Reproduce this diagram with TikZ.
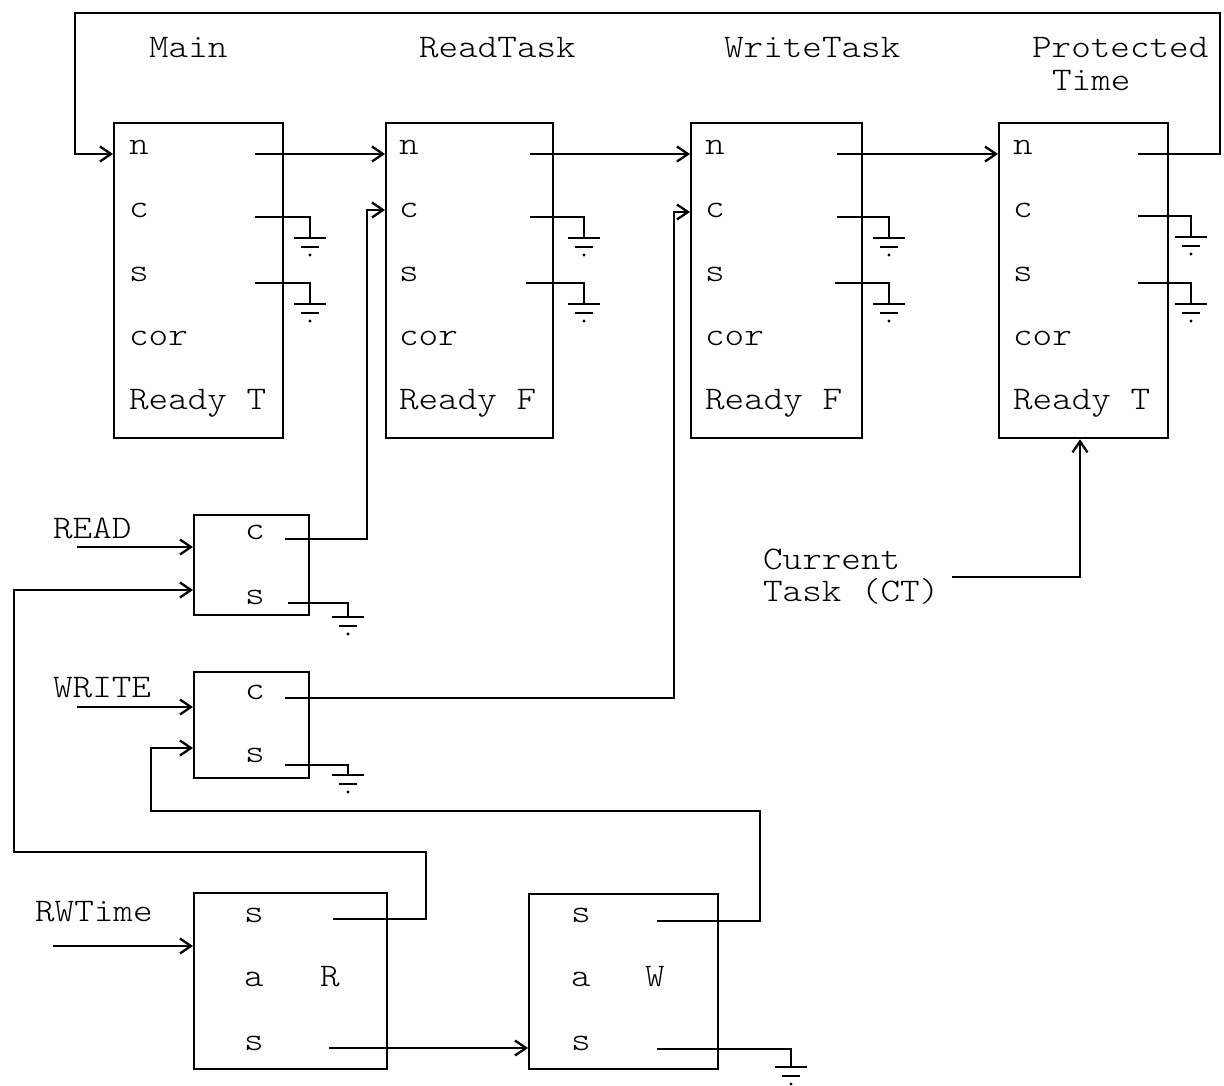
\documentclass[tikz,border=0pt]{standalone}
\usepackage{fontspec}
\newfontfamily\twfont[FakeStretch=1.13]{lmmonolt10-regular.otf}
\usetikzlibrary{arrows.meta}
\begin{document}
\begin{tikzpicture}[x=1pt,y=-1pt,line width=2.3pt,
  box/.style={draw,line width=2.3pt,inner sep=0pt,anchor=north west},
  bigbox/.style={box,minimum width=169pt,minimum height=315pt},
  txt/.style={inner sep=0pt,anchor=base west,font=\twfont\fontsize{33}{36}\selectfont},
  arr/.style={-{Straight Barb[length=11pt,width=15pt,line width=2.3pt]}},
  gnd/.pic={
    \draw[line width=2.3pt] (-16,0)--(16,0);
    \draw[line width=2pt] (-9,9)--(9,9);
    \fill (0,17) circle (1.6pt);
  }]
\useasboundingbox (0,0) rectangle (1224,1086);

% ---------- big task boxes ----------
\node[bigbox] (main) at (113,122) {};
\node[bigbox,minimum width=167pt] (rt) at (385,122) {};
\node[bigbox,minimum width=171pt] (wt) at (690,122) {};
\node[bigbox] (pt) at (998,122) {};

% titles
\node[txt] (tMain) at (148,58) {Main};
\node[txt] (tRead) at (418,58) {ReadTask};
\node[txt] (tWrite) at (723,58) {WriteTask};
\node[txt] (tProt) at (1031,58) {Protected};
\node[txt] (tTime) at (1051,91) {Time};

% field labels
\foreach \b/\x/\r in {main/128/T,rt/398/F,wt/704/F,pt/1012/T}{
  \node[txt] (\b n) at (\x,155) {n};
  \node[txt] (\b c) at (\x,218) {c};
  \node[txt] (\b s) at (\x,282) {s};
  \node[txt] (\b cor) at (\x,345) {cor};
  \node[txt] (\b rdy) at (\x,409) {Ready \r};
}

% output coordinates and grounds of the big boxes
\coordinate (mainNo) at (255,154);
\coordinate (mainCo) at (255,217); \coordinate (mainCg) at (310,238);
\coordinate (mainSo) at (255,283); \coordinate (mainSg) at (310,304);
\coordinate (rtNo) at (530,154);
\coordinate (rtCo) at (530,217);   \coordinate (rtCg) at (584,238);
\coordinate (rtSo) at (526,283);   \coordinate (rtSg) at (584,304);
\coordinate (wtNo) at (837,154);
\coordinate (wtCo) at (837,217);   \coordinate (wtCg) at (889,238);
\coordinate (wtSo) at (835,283);   \coordinate (wtSg) at (889,304);
\coordinate (ptNo) at (1138,154);
\coordinate (ptCo) at (1138,216);  \coordinate (ptCg) at (1191,237);
\coordinate (ptSo) at (1138,283);  \coordinate (ptSg) at (1191,304);

\foreach \g in {mainC,mainS,rtC,rtS,wtC,wtS,ptC,ptS}{
  \draw (\g o) -| (\g g);
  \pic at (\g g) {gnd};
}

% next-pointer chain
\draw[arr] (mainNo) -- (mainNo -| rt.west);
\draw[arr] (rtNo) -- (rtNo -| wt.west);
\draw[arr] (wtNo) -- (wtNo -| pt.west);
\coordinate (loopA) at (1220,154);
\coordinate (loopB) at (1220,13);
\coordinate (loopC) at (75,13);
\coordinate (loopD) at (75,154);
\draw[arr] (ptNo) -- (loopA) -- (loopB) -- (loopC) -- (loopD) -- (loopD -| main.west);

% ---------- READ / WRITE semaphore boxes ----------
\node[box,minimum width=115pt,minimum height=100pt] (rd) at (193,514) {};
\node[box,minimum width=115pt,minimum height=106pt] (wr) at (193,671) {};
\node[txt] (rdc) at (244,539) {c};
\node[txt] (rds) at (244,604) {s};
\node[txt] (wrc) at (244,699) {c};
\node[txt] (wrs) at (244,762) {s};

\node[txt] (lRead) at (52,538) {READ};
\node[txt] (lWrite) at (52,697) {WRITE};
\coordinate (readIn) at (77,547);
\coordinate (writeIn) at (77,707);
\draw[arr] (readIn) -- (readIn -| rd.west);
\draw[arr] (writeIn) -- (writeIn -| wr.west);

% READ.c -> ReadTask.c
\coordinate (rdCo) at (285,539);
\coordinate (rdCup) at (367,210);
\draw[arr] (rdCo) -| (rdCup) -- (rdCup -| rt.west);
% WRITE.c -> WriteTask.c
\coordinate (wrCo) at (285,698);
\coordinate (wrCup) at (674,212);
\draw[arr] (wrCo) -| (wrCup) -- (wrCup -| wt.west);
% grounds of s
\coordinate (rdSo) at (288,603); \coordinate (rdSg) at (348,617);
\coordinate (wrSo) at (285,765); \coordinate (wrSg) at (348,775);
\draw (rdSo) -| (rdSg); \pic at (rdSg) {gnd};
\draw (wrSo) -| (wrSg); \pic at (wrSg) {gnd};

% ---------- R and W boxes ----------
\node[box,minimum width=193pt,minimum height=176pt] (rb) at (193,892) {};
\node[box,minimum width=189pt,minimum height=175pt] (wb) at (528,893) {};
\node[txt] (rbs1) at (243,922) {s};
\node[txt] (rba) at (243,986) {a};
\node[txt] (rbR) at (319,986) {R};
\node[txt] (rbs2) at (243,1050) {s};
\node[txt] (wbs1) at (570,922) {s};
\node[txt] (wba) at (570,986) {a};
\node[txt] (wbW) at (644,986) {W};
\node[txt] (wbs2) at (570,1050) {s};

\node[txt] (lRW) at (34,921) {RWTime};
\coordinate (rwIn) at (53,946);
\draw[arr] (rwIn) -- (rwIn -| rb.west);

% R.s -> READ.s
\coordinate (rbS1o) at (333,919);
\coordinate (rbUp) at (426,852);
\coordinate (rbLeft) at (14,590);
\draw[arr] (rbS1o) -| (rbUp) -| (rbLeft) -- (rbLeft -| rd.west);
% W.s -> WRITE.s
\coordinate (wbS1o) at (657,921);
\coordinate (wbUp) at (760,811);
\coordinate (wbLeft) at (151,748);
\draw[arr] (wbS1o) -| (wbUp) -| (wbLeft) -- (wbLeft -| wr.west);
% R.s -> W.s
\coordinate (rbS2o) at (329,1048);
\draw[arr] (rbS2o) -- (rbS2o -| wb.west);
% W.s ground
\coordinate (wbS2o) at (657,1049); \coordinate (wbS2g) at (791,1067);
\draw (wbS2o) -| (wbS2g); \pic at (wbS2g) {gnd};

% ---------- Current task ----------
\node[txt] (ct1) at (762,569) {Current};
\node[txt] (ct2) at (762,601) {Task (CT)};
\coordinate (ctOut) at (952,577);
\coordinate (ctUp) at (1080,577);
\draw[arr] (ctOut) -- (ctUp) -- (ctUp |- pt.south);
\end{tikzpicture}
\end{document}
